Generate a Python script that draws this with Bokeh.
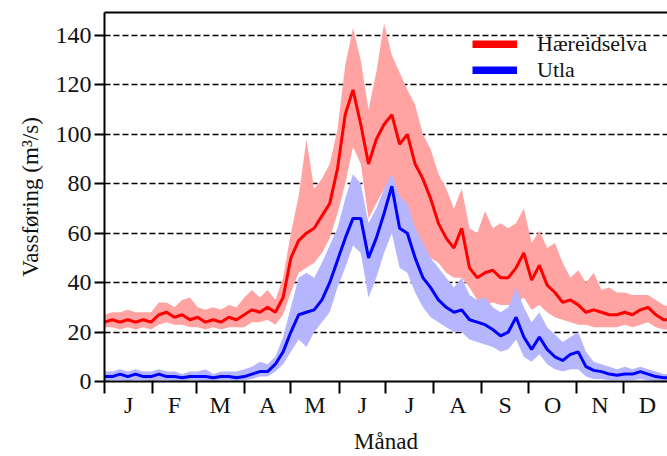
from bokeh.plotting import figure
from bokeh.models import Range1d, FixedTicker, LinearAxis, Legend, LegendItem, ColumnDataSource
from bokeh.embed import file_html
from bokeh.resources import INLINE

# ---------------- data ----------------
month_labels = ["J", "F", "M", "A", "M", "J", "J", "A", "S", "O", "N", "D"]
month_days = [31, 28, 31, 30, 31, 30, 31, 31, 30, 31, 30, 31]
day = list(range(0, 366, 5))

haer_mean = [24, 25, 24, 25, 24, 25, 24, 27, 28, 26, 27, 25, 26, 24, 25, 24, 26, 25, 27, 29,
             28, 30, 28, 34, 50, 57, 60, 62, 67, 72, 86, 108, 118, 104, 88, 98, 104, 108, 96, 100,
             88, 82, 74, 64, 58, 54, 62, 46, 42, 44, 45, 42, 42, 46, 52, 41, 47, 39, 36, 32,
             33, 31, 28, 29, 28, 27, 27, 28, 27, 29, 30, 27, 25, 25]
haer_hi = [27, 28, 28, 29, 28, 28, 28, 32, 32, 30, 33, 34, 30, 29, 30, 29, 31, 30, 34, 37,
           34, 37, 33, 42, 60, 75, 98, 78, 82, 88, 102, 128, 143, 130, 110, 125, 145, 132, 125, 118,
           112, 100, 94, 84, 78, 70, 78, 62, 60, 69, 62, 64, 62, 64, 70, 56, 61, 54, 56, 48,
           42, 45, 40, 44, 37, 38, 36, 36, 35, 35, 35, 33, 31, 30]
haer_lo = [22, 22, 21, 22, 21, 22, 21, 23, 24, 23, 23, 22, 22, 21, 22, 21, 22, 22, 22, 24,
           24, 25, 23, 27, 36, 44, 46, 48, 52, 58, 68, 80, 95, 88, 66, 72, 78, 80, 60, 57,
           56, 52, 50, 48, 44, 42, 42, 38, 33, 31, 32, 31, 31, 32, 34, 29, 31, 28, 26, 25,
           24, 23, 23, 22, 22, 22, 22, 23, 22, 23, 24, 22, 21, 21]

utla_mean = [2, 2, 3, 2, 3, 2, 2, 3, 2, 2, 1.5, 2, 2, 2, 1.5, 2, 2, 1.5, 2, 3,
             4, 4, 7, 12, 20, 27, 28, 29, 33, 40, 49, 58, 66, 66, 50, 58, 68, 79, 62, 60,
             50, 42, 38, 33, 30, 28, 29, 25, 24, 23, 21, 18.5, 20, 26, 18, 13, 18, 13, 10, 8.5,
             11, 12, 6, 4.5, 4, 3, 2.5, 3, 3, 4, 3, 2, 1.5, 1.5]
utla_hi = [4, 4, 5, 4, 5, 4, 4, 5, 4, 4, 3, 4, 4, 5, 3, 4, 4, 4, 5, 6,
           8, 7, 10, 18, 30, 42, 44, 42, 48, 55, 62, 74, 84, 80, 64, 70, 78, 84, 75, 72,
           62, 56, 50, 46, 42, 38, 42, 35, 33, 34, 30, 28, 30, 38, 30, 24, 28, 22, 19, 16,
           18, 20, 12, 8, 7, 6, 5, 6, 5, 6, 5, 4, 3, 3]
utla_lo = [0, 0.5, 0.5, 0, 0.5, 0.5, 0, 0.5, 0.5, 0, 0, 0.5, 0.5, 0, 0, 0.5, 0.5, 0, 0.5, 1,
           2, 2, 4, 7, 12, 17, 14, 20, 24, 28, 38, 46, 55, 52, 34, 42, 52, 60, 46, 44,
           36, 30, 26, 24, 22, 20, 20, 17, 16, 15, 14, 12, 13, 17, 10, 8, 11, 7, 5, 4,
           5, 5, 2, 1, 1, 0.5, 0.5, 0.5, 0.5, 1, 0.5, 0, 0, 0]

yticks = [0, 20, 40, 60, 80, 100, 120, 140]
series_names = ["Hæreidselva", "Utla"]

# ------------- derived tick positions -------------
bounds = [0]
for d in month_days:
    bounds.append(bounds[-1] + d)
centers = [(bounds[i] + bounds[i + 1]) / 2 for i in range(12)]

src = ColumnDataSource(dict(day=day, hm=haer_mean, hh=haer_hi, hl=haer_lo,
                            um=utla_mean, uh=utla_hi, ul=utla_lo))

FONT = "Liberation Serif"
RED, PINK = "#ff0000", "#ffa3a3"
BLUE, LAV = "#0000ff", "#b6b6ff"

p = figure(width=667, height=456, output_backend="svg", toolbar_location=None,
           x_range=Range1d(0, 362.5), y_range=Range1d(0, 149.3),
           min_border_left=104, min_border_right=0, min_border_top=12, min_border_bottom=10)
p.outline_line_color = None
p.background_fill_color = "white"
p.border_fill_color = "white"

# bands and lines
p.varea(x="day", y1="hl", y2="hh", source=src, fill_color=PINK)
p.varea(x="day", y1="ul", y2="uh", source=src, fill_color=LAV)
p.line(x="day", y="hm", source=src, line_color=RED, line_width=3)
p.line(x="day", y="um", source=src, line_color=BLUE, line_width=3)

# grids
p.xgrid.visible = False
p.ygrid.ticker = FixedTicker(ticks=yticks)
p.ygrid.grid_line_color = "black"
p.ygrid.grid_line_dash = "6 3"
p.ygrid.grid_line_width = 1.3

# y axis
ya = p.yaxis[0]
ya.ticker = FixedTicker(ticks=yticks)
ya.axis_label = "Vassføring (m³/s)"
ya.axis_label_text_font = FONT
ya.axis_label_text_font_style = "normal"
ya.axis_label_text_font_size = "23px"
ya.axis_label_standoff = 10
ya.major_label_text_font = FONT
ya.major_label_text_font_size = "24px"
ya.major_label_standoff = 3
ya.major_tick_out = 10
ya.major_tick_in = 0
ya.minor_tick_line_color = None
ya.axis_line_width = 2
ya.major_tick_line_width = 2
ya.axis_line_color = "black"
ya.major_label_text_color = "#111111"
ya.axis_label_text_color = "#111111"

# x axis
xa = p.xaxis[0]
xa.ticker = FixedTicker(ticks=centers, minor_ticks=bounds)
xa.major_label_overrides = {c: m for c, m in zip(centers, month_labels)}
xa.major_tick_line_color = None
xa.major_tick_out = 12
xa.major_tick_in = 0
xa.minor_tick_out = 12
xa.minor_tick_in = 0
xa.minor_tick_line_width = 2
xa.minor_tick_line_color = "black"
xa.axis_line_width = 2
xa.major_label_text_font = FONT
xa.major_label_text_font_size = "24px"
xa.major_label_standoff = -2
xa.axis_label = "Månad"
xa.axis_label_text_font = FONT
xa.axis_label_text_font_style = "normal"
xa.axis_label_text_font_size = "23px"
xa.axis_label_standoff = 8
xa.major_label_text_color = "#111111"
xa.axis_label_text_color = "#111111"

# top frame line
top = LinearAxis(ticker=FixedTicker(ticks=[]), major_label_text_font_size="0px",
                 major_tick_out=0, major_tick_in=0, minor_tick_out=0, minor_tick_in=0,
                 axis_line_width=2, axis_line_color="black", major_label_standoff=0)
p.add_layout(top, "above")

# legend with thick keys (hidden renderers, used only for the legend swatches)
lr = p.line(x="day", y="hm", source=src, line_color=RED, line_width=8, visible=False)
lb = p.line(x="day", y="um", source=src, line_color=BLUE, line_width=8, visible=False)
leg = Legend(items=[LegendItem(label=series_names[0], renderers=[lr]),
                    LegendItem(label=series_names[1], renderers=[lb])],
             location=(368, 298), orientation="vertical",
             glyph_width=45, glyph_height=8, label_standoff=20,
             label_text_font=FONT, label_text_font_size="22px", label_height=23,
             label_text_color="#111111",
             spacing=0, padding=0, margin=0,
             border_line_color=None, background_fill_alpha=0)
p.add_layout(leg, "center")

open("out.html", "w").write(file_html(p, INLINE))
